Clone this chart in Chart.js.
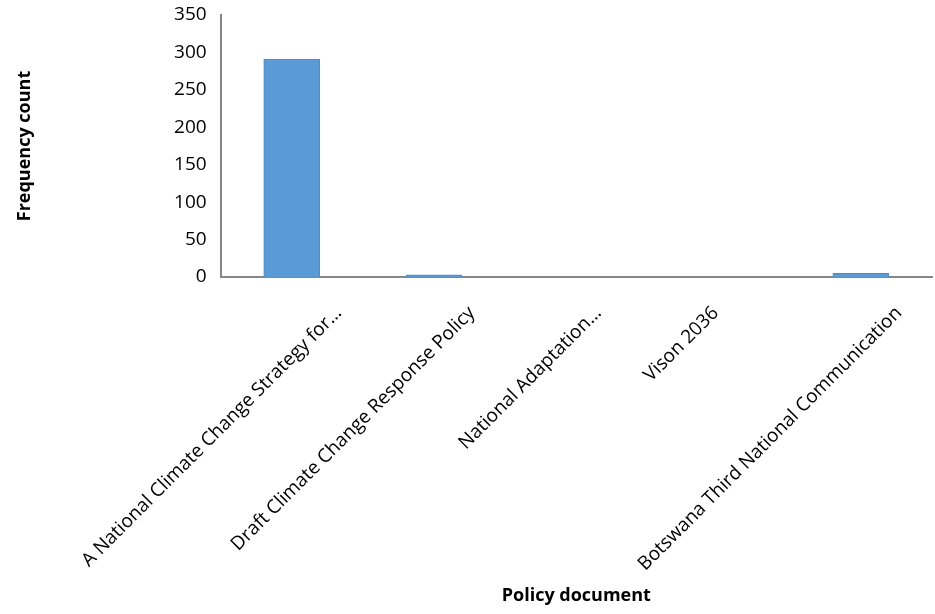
<!DOCTYPE html>
<html>
<head>
<meta charset="utf-8">
<script src="https://cdn.jsdelivr.net/npm/chart.js@4/dist/chart.umd.min.js"></script>
<style>
  body { margin: 0; background: #fff; }
  #wrap { width: 935px; height: 614px; }
</style>
</head>
<body>
<div id="wrap"><canvas id="policyChart"></canvas></div>
<script>
// Policy documents and frequency counts
const policyDocs = [
  "A National Climate Change Strategy for…",
  "Draft Climate Change Response Policy",
  "National Adaptation…",
  "Vison 2036",
  "Botswana Third National Communication",
];
const frequencyCounts = [291, 3, 0, 0, 5];
const yTicks = [0, 50, 100, 150, 200, 250, 300, 350];

// horizontal nudge of each rotated label from its tick (px), like the original
const labelShift = [47, 38, 22, -3, 38];

window.onload = () => {
  const ctx = document.getElementById("policyChart").getContext("2d");

  new Chart(ctx, {
    type: "bar",
    data: {
      labels: policyDocs,
      datasets: [
        {
          data: frequencyCounts,
          backgroundColor: "#5B9BD5",
          borderColor: "#4A8BC9",
          borderWidth: 1,
          barThickness: 56, // fixed, since tick pixels are nudged above
        },
      ],
    },
    options: {
      responsive: true,
      maintainAspectRatio: false,
      animation: false,
      layout: { padding: { top: 0, right: 3, left: 5, bottom: 4 } },
      plugins: {
        legend: { display: false },
        tooltip: { enabled: false },
      },
      scales: {
        x: {
          grid: { display: false },
          border: { display: true, color: "#868686", width: 2 },
          ticks: {
            color: "#000",
            font: { family: "Open Sans", size: 19 },
            maxRotation: 45,
            minRotation: 45,
            padding: 17,
            autoSkip: false,
          },
          title: {
            display: true,
            text: "Policy document",
            color: "#000",
            font: { family: "Open Sans", size: 18, weight: "bold" },
            padding: { top: 0, bottom: 3 },
          },
          // axis box taller than Chart.js allows by default (labels are long)
          afterFit: (scale) => {
            scale.height = 333;
          },
          afterUpdate: (scale) => {
            scale.getPixelForTick = (i) => scale.getPixelForValue(i) + labelShift[i];
          },
        },
        y: {
          min: yTicks[0],
          max: yTicks[yTicks.length - 1],
          grid: { display: false },
          border: { display: true, color: "#868686", width: 2 },
          afterBuildTicks: (axis) => {
            axis.ticks = yTicks.map((v) => ({ value: v }));
          },
          afterFit: (scale) => {
            scale.paddingTop = 15;
          },
          ticks: {
            color: "#000",
            font: { family: "Open Sans", size: 19 },
            padding: 6,
          },
          title: {
            display: true,
            text: "Frequency count",
            color: "#000",
            font: { family: "Open Sans", size: 18, weight: "bold" },
            padding: { top: 0, bottom: 132 },
          },
        },
      },
    },
  });
};
</script>
</body>
</html>
